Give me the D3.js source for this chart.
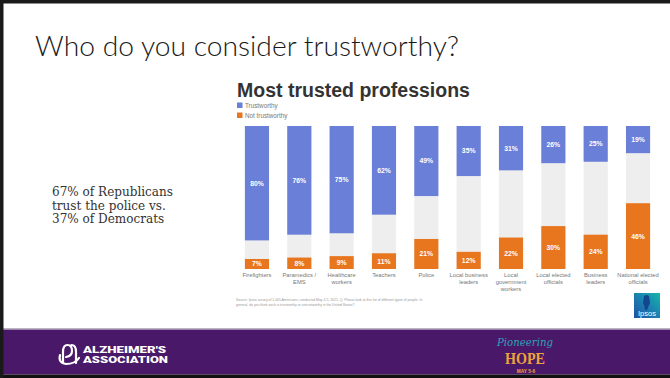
<!DOCTYPE html>
<html>
<head>
<meta charset="utf-8">
<script src="https://cdn.jsdelivr.net/npm/d3@7"></script>
<style>
  html, body { margin: 0; padding: 0; background: #fff; }
  svg { display: block; }
</style>
</head>
<body>
<svg id="slide" width="670" height="378"></svg>
<script>
// Survey results: share of Americans calling each profession trustworthy / not trustworthy
const categories = [
  "Firefighters", "Paramedics / EMS", "Healthcare workers", "Teachers", "Police",
  "Local business leaders", "Local government workers", "Local elected officials",
  "Business leaders", "National elected officials"
];
const categoryLines = [
  ["Firefighters"], ["Paramedics /", "EMS"], ["Healthcare", "workers"], ["Teachers"], ["Police"],
  ["Local business", "leaders"], ["Local", "government", "workers"], ["Local elected", "officials"],
  ["Business", "leaders"], ["National elected", "officials"]
];
const trustworthy    = [80, 76, 75, 62, 49, 35, 31, 26, 25, 19];
const notTrustworthy = [7, 8, 9, 11, 21, 12, 22, 30, 24, 46];
const seriesNames = ["Trustworthy", "Not trustworthy"];

const BLUE = "#6a7fd8", ORANGE = "#e8761f", MIDGREY = "#eeeeee";

const svg = d3.select("#slide");

// fit a text element's font size so it spans a given width
function fitWidth(sel, target) {
  const node = sel.node();
  const fs = parseFloat(sel.attr("font-size"));
  const w = node.getComputedTextLength();
  sel.attr("font-size", (fs * target / w).toFixed(2));
}

// ---- slide frame ----
svg.append("rect").attr("x", 0).attr("y", 0).attr("width", 670).attr("height", 378).attr("fill", "#fff");

// slide heading
const heading = svg.append("text")
  .attr("x", 35).attr("y", 56)
  .attr("font-family", "Lato, 'Open Sans', sans-serif")
  .attr("font-weight", 300)
  .attr("font-size", 25)
  .attr("fill", "#1a1a1a")
  .text("Who do you consider trustworthy?");
fitWidth(heading, 424);

// side note
const note = ["67% of Republicans", "trust the police vs.", "37% of Democrats"];
const noteG = svg.append("g")
  .attr("font-family", "'DejaVu Serif', serif")
  .attr("fill", "#333");
const noteFirst = noteG.append("text").attr("x", 52).attr("y", 196).attr("font-size", 12).text(note[0]);
fitWidth(noteFirst, 121);
const noteFs = noteFirst.attr("font-size");
note.slice(1).forEach((t, i) => {
  noteG.append("text").attr("x", 52).attr("y", 196 + (i + 1) * 13.6).attr("font-size", noteFs).text(t);
});

// ---- chart ----
const chartTitle = svg.append("text")
  .attr("x", 237).attr("y", 96.5)
  .attr("font-family", "'Liberation Sans', Arial, sans-serif")
  .attr("font-weight", 700)
  .attr("font-size", 19)
  .attr("fill", "#333")
  .text("Most trusted professions");
fitWidth(chartTitle, 233);

// legend
const legend = svg.append("g").attr("font-family", "'Liberation Sans', Arial, sans-serif");
const legendColors = [BLUE, ORANGE];
seriesNames.forEach((name, i) => {
  const y = 102.5 + i * 10;
  legend.append("rect").attr("x", 237).attr("y", y).attr("width", 5.5).attr("height", 5.5).attr("fill", legendColors[i]);
  legend.append("text").attr("x", 245).attr("y", y + 5).attr("font-size", 6.3).attr("fill", "#777").text(name);
});

const x = d3.scaleBand()
  .domain(categories)
  .range([236, 659])
  .paddingInner(0.43)
  .paddingOuter(0.21);

const y = d3.scaleLinear().domain([0, 100]).range([269, 126]);

const rows = categories.map((c, i) => ({ c, t: trustworthy[i], n: notTrustworthy[i] }));

const bars = svg.append("g").selectAll("g").data(rows).join("g");

// full-height background (neither answer)
bars.append("rect")
  .attr("x", d => x(d.c)).attr("width", x.bandwidth())
  .attr("y", y(100)).attr("height", y(0) - y(100))
  .attr("fill", MIDGREY);

// trustworthy from the top
bars.append("rect")
  .attr("x", d => x(d.c)).attr("width", x.bandwidth())
  .attr("y", y(100)).attr("height", d => y(100 - d.t) - y(100))
  .attr("fill", BLUE);

// not trustworthy from the bottom
bars.append("rect")
  .attr("x", d => x(d.c)).attr("width", x.bandwidth())
  .attr("y", d => y(d.n)).attr("height", d => y(0) - y(d.n))
  .attr("fill", ORANGE);

const labelFont = "'Liberation Sans', Arial, sans-serif";
bars.append("text")
  .attr("x", d => x(d.c) + x.bandwidth() / 2)
  .attr("y", d => (y(100) + y(100 - d.t)) / 2 + 2.4)
  .attr("text-anchor", "middle")
  .attr("font-family", labelFont).attr("font-weight", 700).attr("font-size", 6.8)
  .attr("fill", "#fff")
  .text(d => d.t + "%");

bars.append("text")
  .attr("x", d => x(d.c) + x.bandwidth() / 2)
  .attr("y", d => (y(d.n) + y(0)) / 2 + 2.4)
  .attr("text-anchor", "middle")
  .attr("font-family", labelFont).attr("font-weight", 700).attr("font-size", 6.8)
  .attr("fill", "#fff")
  .text(d => d.n + "%");

// category axis labels
const catG = svg.append("g").attr("font-family", labelFont).attr("font-size", 5.8).attr("fill", "#777");
categories.forEach((c, i) => {
  const t = catG.append("text").attr("x", x(c) + x.bandwidth() / 2).attr("y", 277).attr("text-anchor", "middle");
  categoryLines[i].forEach((line, j) => {
    t.append("tspan").attr("x", x(c) + x.bandwidth() / 2).attr("dy", j === 0 ? 0 : 6.8).text(line);
  });
});

// source footnote
const src = svg.append("g").attr("font-family", labelFont).attr("font-size", 3.4).attr("fill", "#999");
const srcL1 = src.append("text").attr("x", 236).attr("y", 301)
  .text("Source: Ipsos survey of 1,005 Americans, conducted May 4-5, 2021. Q. Please look at this list of different types of people. In");
fitWidth(srcL1, 236);
src.append("text").attr("x", 236).attr("y", 306).attr("font-size", srcL1.attr("font-size"))
  .text("general, do you think each is trustworthy or untrustworthy in the United States?");

// Ipsos badge
const defs = svg.append("defs");
const grad = defs.append("linearGradient").attr("id", "ipsosGrad")
  .attr("x1", "0").attr("y1", "1").attr("x2", "1").attr("y2", "0");
grad.append("stop").attr("offset", "0").attr("stop-color", "#2050a6");
grad.append("stop").attr("offset", "0.55").attr("stop-color", "#1a86b0");
grad.append("stop").attr("offset", "1").attr("stop-color", "#17b7aa");
const ip = svg.append("g").attr("transform", "translate(634,293)");
ip.append("rect").attr("width", 26).attr("height", 25).attr("fill", "url(#ipsosGrad)");
ip.append("path").attr("d", "M10,3 Q13,1 15,3 L16,10 Q14,14 13,17 L11,17 Q11,13 9,10 Z").attr("fill", "#143e8c").attr("opacity", 0.9);
ip.append("text").attr("x", 13).attr("y", 22.5).attr("text-anchor", "middle")
  .attr("font-family", labelFont).attr("font-size", 7.5).attr("fill", "#fff").text("Ipsos");

// ---- footer band ----
svg.append("rect").attr("x", 0).attr("y", 328).attr("width", 670).attr("height", 1.2).attr("fill", "#b9b4c0");
svg.append("rect").attr("x", 0).attr("y", 329.5).attr("width", 670).attr("height", 45).attr("fill", "#4a1868");

// Alzheimer's Association mark
const alz = svg.append("g");
alz.append("path")
  .attr("d", "M63,363 L63,352 Q63,345 67.5,345 Q72,345 72,351 Q72,356 66,357 M76,363 L76,352 Q76,345 71.5,345")
  .attr("fill", "none").attr("stroke", "#fff").attr("stroke-width", 2.2).attr("stroke-linecap", "round");
alz.append("path")
  .attr("d", "M60,355 Q58,363 66,364 Q75,364 79,358")
  .attr("fill", "none").attr("stroke", "#fff").attr("stroke-width", 2.2).attr("stroke-linecap", "round");
alz.append("text").attr("x", 83).attr("y", 352.5)
  .attr("font-family", "Roboto, 'DejaVu Sans', sans-serif").attr("font-weight", 900).attr("font-size", 8.4)
  .attr("textLength", 83).attr("lengthAdjust", "spacingAndGlyphs")
  .attr("fill", "#fff").text("ALZHEIMER'S");
alz.append("text").attr("x", 83).attr("y", 362.5)
  .attr("font-family", "Roboto, 'DejaVu Sans', sans-serif").attr("font-weight", 900).attr("font-size", 8.4)
  .attr("textLength", 85).attr("lengthAdjust", "spacingAndGlyphs")
  .attr("fill", "#fff").text("ASSOCIATION");

// event mark
const ev = svg.append("g").attr("text-anchor", "middle");
ev.append("text").attr("x", 525).attr("y", 346)
  .attr("font-family", "'DejaVu Serif', serif").attr("font-style", "italic").attr("font-size", 10.5)
  .attr("textLength", 56).attr("lengthAdjust", "spacingAndGlyphs")
  .attr("fill", "#2ea3b8").text("Pioneering");
ev.append("text").attr("transform", "translate(525,364) scale(1,1.15)")
  .attr("font-family", "'Liberation Serif', serif").attr("font-weight", 700).attr("font-size", 15)
  .attr("textLength", 40).attr("lengthAdjust", "spacingAndGlyphs")
  .attr("fill", "#eda43a").text("HOPE");
ev.append("text").attr("x", 526).attr("y", 372.6)
  .attr("font-family", labelFont).attr("font-weight", 700).attr("font-size", 4.8)
  .attr("fill", "#eda43a").text("MAY 5-6");

// outer frame
svg.append("rect").attr("x", 0).attr("y", 374.5).attr("width", 670).attr("height", 3.5).attr("fill", "#111");
svg.append("rect").attr("x", 0).attr("y", 0).attr("width", 670).attr("height", 3.5).attr("fill", "#1a1a1a");
svg.append("rect").attr("x", 0).attr("y", 0).attr("width", 3.5).attr("height", 378).attr("fill", "#1a1a1a");
</script>
</body>
</html>
